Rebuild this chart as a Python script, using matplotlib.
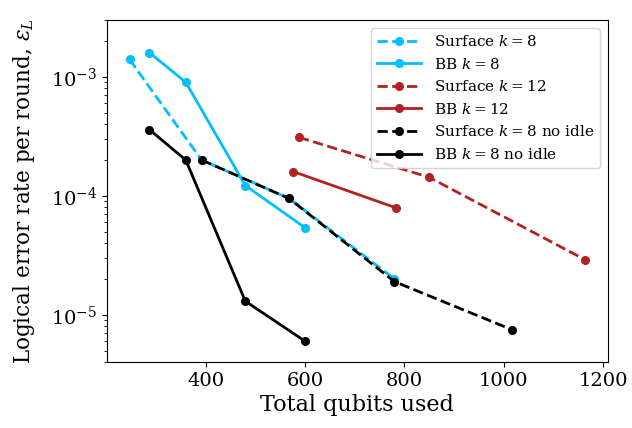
import matplotlib
matplotlib.use("Agg")
import matplotlib.pyplot as plt

plt.rcParams['font.family'] = 'DejaVu Serif'
plt.rcParams['mathtext.fontset'] = 'dejavuserif'

# data
surf8_q = [247, 392, 568, 780]
surf8_e = [1.4e-3, 2.0e-4, 9.5e-5, 2.0e-5]
bb8_q = [287, 360, 480, 600]
bb8_e = [1.6e-3, 9.0e-4, 1.22e-4, 5.4e-5]
surf12_q = [588, 850, 1164]
surf12_e = [3.1e-4, 1.43e-4, 2.9e-5]
bb12_q = [576, 784]
bb12_e = [1.6e-4, 7.9e-5]
surf8ni_q = [392, 568, 780, 1016]
surf8ni_e = [2.0e-4, 9.5e-5, 1.9e-5, 7.5e-6]
bb8ni_q = [287, 360, 480, 600]
bb8ni_e = [3.6e-4, 2.0e-4, 1.3e-5, 6.0e-6]

cyan = 'deepskyblue'
red = 'firebrick'

fig = plt.figure(figsize=(6.32, 4.28), dpi=100)
ax = fig.add_axes([0.169, 0.154, 0.793, 0.799])

kw = dict(marker='o', markersize=5.5, linewidth=2)
ax.plot(surf8_q, surf8_e, '--', color=cyan, label=r'Surface $k=8$', **kw)
ax.plot(bb8_q, bb8_e, '-', color=cyan, label=r'BB $k=8$', **kw)
ax.plot(surf12_q, surf12_e, '--', color=red, label=r'Surface $k=12$', **kw)
ax.plot(bb12_q, bb12_e, '-', color=red, label=r'BB $k=12$', **kw)
ax.plot(surf8ni_q, surf8ni_e, '--', color='black', label=r'Surface $k=8$ no idle', **kw)
ax.plot(bb8ni_q, bb8ni_e, '-', color='black', label=r'BB $k=8$ no idle', **kw)

ax.set_yscale('log')
ax.set_ylim(4e-6, 3e-3)
ax.set_xticks([400, 600, 800, 1000, 1200])
ax.tick_params(labelsize=14)
ax.set_xlabel('Total qubits used', fontsize=16, labelpad=3)
ax.set_ylabel(r'Logical error rate per round, $\epsilon_L$', fontsize=15.5, labelpad=10)
ax.legend(loc='upper right', fontsize=11, handlelength=2.9)

fig.savefig('out.png', dpi=100)
